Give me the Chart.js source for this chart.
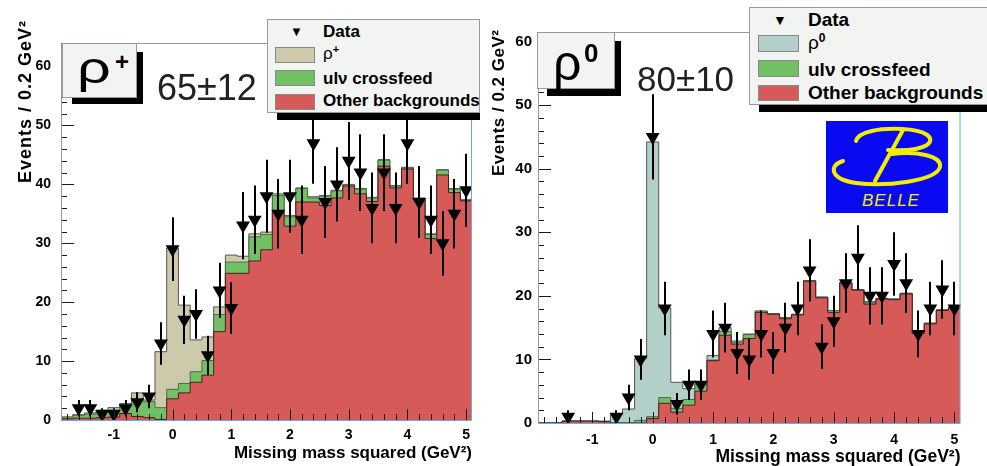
<!DOCTYPE html>
<html>
<head>
<meta charset="utf-8">
<script src="https://cdn.jsdelivr.net/npm/chart.js@4.4.1/dist/chart.umd.min.js"></script>
<style>
  body { margin: 0; background: #fff; font-family: 'Liberation Sans', Arial, sans-serif; }
  #wrap { position: relative; width: 987px; height: 466px; overflow: hidden; background: #fff; }
  .panel { position: absolute; top: 0; height: 466px; overflow: hidden; }
  .abs { position: absolute; white-space: nowrap; line-height: 1; }
  .box { position: absolute; background: #f2f4f2; border: 1px solid #999; box-sizing: border-box; }
  .shadow { position: absolute; background: #000; }
  .sw { position: absolute; border: 1px solid #888; box-sizing: border-box; }
  .ytitle { position: absolute; white-space: nowrap; font-weight: bold; transform-origin: 0 0; transform: rotate(-90deg); }
</style>
</head>
<body>
<div id="wrap">
  <div class="panel" style="left:0;width:480px">
    <canvas id="cLeft" width="480" height="466"></canvas>
    <!-- rho+ label -->
    <div class="shadow" style="left:72px;top:52px;width:71px;height:52px"></div>
    <div class="box" style="left:62px;top:43px;width:75px;height:55px"></div>
    <div class="abs" style="left:77px;top:46px;font-size:44px;transform:scaleX(1.35);transform-origin:0 0">ρ</div>
    <div class="abs" style="left:115px;top:50px;font-size:24px;font-weight:bold">+</div>
    <div class="abs" style="left:157px;top:70px;font-size:36px;color:#222">65±12</div>
    <!-- legend -->
    <div class="shadow" style="left:277px;top:112px;width:203px;height:8px"></div>
    <div class="box" style="left:267px;top:19px;width:213px;height:94px"></div>
    <div class="abs" style="left:290px;top:25px;font-size:13px">▼</div>
    <div class="abs" style="left:323px;top:23px;font-size:17px;font-weight:bold">Data</div>
    <div class="sw" style="left:275px;top:47px;width:40px;height:16px;background:#cdc9ab"></div>
    <div class="abs" style="left:323px;top:45px;font-size:17px">ρ<span style="position:relative;top:-6px;font-size:11px;font-weight:bold">+</span></div>
    <div class="sw" style="left:275px;top:70px;width:40px;height:16px;background:#72c064"></div>
    <div class="abs" style="left:323px;top:70px;font-size:17px;font-weight:bold">ulν crossfeed</div>
    <div class="sw" style="left:275px;top:94px;width:40px;height:16px;background:#d65a57"></div>
    <div class="abs" style="left:323px;top:92px;font-size:17px;font-weight:bold">Other backgrounds</div>
  </div>

  <div class="panel" style="left:490px;width:497px">
    <canvas id="cRight" width="497" height="466"></canvas>
    <!-- rho0 label -->
    <div class="shadow" style="left:57px;top:41px;width:74px;height:55px"></div>
    <div class="box" style="left:47px;top:32px;width:78px;height:57px"></div>
    <div class="abs" style="left:63px;top:38px;font-size:50px">ρ</div>
    <div class="abs" style="left:94px;top:40px;font-size:26px;font-weight:bold">0</div>
    <div class="abs" style="left:147px;top:61px;font-size:35px;color:#222">80±10</div>
    <!-- legend -->
    <div class="shadow" style="left:269px;top:104px;width:240px;height:8px"></div>
    <div class="box" style="left:259px;top:7px;width:250px;height:98px"></div>
    <div class="abs" style="left:283px;top:13px;font-size:14px">▼</div>
    <div class="abs" style="left:318px;top:10px;font-size:19px;font-weight:bold">Data</div>
    <div class="sw" style="left:268px;top:35px;width:41px;height:17px;background:#b2d0c9"></div>
    <div class="abs" style="left:318px;top:33px;font-size:19px">ρ<span style="position:relative;top:-7px;font-size:12px;font-weight:bold">0</span></div>
    <div class="sw" style="left:268px;top:60px;width:41px;height:17px;background:#72c064"></div>
    <div class="abs" style="left:318px;top:60px;font-size:19px;font-weight:bold">ulν crossfeed</div>
    <div class="sw" style="left:268px;top:85px;width:41px;height:16px;background:#d65a57"></div>
    <div class="abs" style="left:318px;top:83px;font-size:19px;font-weight:bold">Other backgrounds</div>
    <!-- Belle logo -->
    <div style="position:absolute;left:336px;top:121px;width:122px;height:92px;background:#0a0af2">
      <svg width="122" height="92" style="position:absolute;left:0;top:0">
        <g fill="none" stroke="#f2ee00" stroke-width="4" stroke-linecap="round">
          <path d="M30 20 C32 11 52 7 76 8 C100 9 110 17 101 24 C93 29 78 30 62 29"/>
          <path d="M77 9 L49 60"/>
          <path d="M17 40 C3 44 3 58 30 62 C60 66 110 60 114 46 C116 35 92 30 66 33"/>
        </g>
      </svg>
      <div class="abs" style="left:36px;top:71px;font-size:17px;font-style:italic;color:#f2ee00;letter-spacing:1px">BELLE</div>
    </div>
  </div>

  <div class="ytitle" style="left:15px;top:183px;font-size:18px;line-height:20px;letter-spacing:1px">Events / 0.2 GeV²</div>
  <div class="ytitle" style="left:489px;top:176px;font-size:17px;line-height:19px;letter-spacing:0.5px">Events / 0.2 GeV²</div>
</div>

<script>
// bin centres of missing mass squared (GeV^2), 0.2 wide
const bins = [-1.8, -1.6, -1.4, -1.2, -1.0, -0.8, -0.6, -0.4, -0.2, 0.0, 0.2, 0.4, 0.6, 0.8, 1.0, 1.2, 1.4, 1.6, 1.8,
  2.0, 2.2, 2.4, 2.6, 2.8, 3.0, 3.2, 3.4, 3.6, 3.8, 4.0, 4.2, 4.4, 4.6, 4.8, 5.0]
const binWidth = 0.2
const xTicks = [-1, 0, 1, 2, 3, 4, 5]
const yTicks = [0, 10, 20, 30, 40, 50, 60]

// rho+ panel
const otherPlus = [0.2, 0.3, 0.3, 0.4, 0.5, 1.1, 0.6, 0.4, 0.1, 3.6, 4.6, 6.4, 7.6, 15.0, 24.9, 24.9, 27.0, 28.9, 35.4,
  32.9, 37.0, 37.0, 36.4, 37.7, 39.7, 38.4, 37.1, 43.1, 39.4, 42.6, 37.4, 30.8, 41.6, 38.6, 37.2]
const crossPlus = [0.3, 0.5, 0.7, 1.0, 1.2, 1.3, 2.8, 2.7, 2.0, 1.6, 1.6, 1.8, 2.5, 2.9, 1.9, 1.9, 4.1, 2.6, 2.7,
  1.6, 2.3, 0.7, 1.6, 1.2, 0.2, 0.8, 0.6, 1.0, 0.3, 0.2, 0.2, 0.7, 0.8, 0.6, 0.1]
const sigPlus = [0.0, 0.1, 0.2, 0.3, 0.4, 0.4, 1.2, 0.3, 9.5, 24.0, 13.3, 5.4, 4.0, 1.3, 1.2, 1.0, 0.5, 0.4, 0.3,
  0.2, 0.1, 0.2, 0.1, 0.1, 0.1, 0.1, 0.1, 0.1, 0.1, 0.1, 0.1, 0.1, 0.1, 0.1, 0.1]
const dataPlus = [null, 2, 2, 1, 1, 2, 3, 4, 13, 29, 17, 18, 11, 22, 19, 33, 34, 38, 35,
  38, 34, 47, 37, 40, 44, 42, 36, 42, 36, 47, 37, 34, 30, 35, 39]
const errPlus = [null, 1.4, 1.4, 1.0, 1.0, 1.4, 1.7, 2.0, 3.6, 5.4, 4.1, 4.2, 3.3, 4.7, 4.4, 5.7, 5.8, 6.2, 5.9,
  6.2, 5.8, 6.9, 6.1, 6.3, 6.6, 6.5, 6.0, 6.5, 6.0, 6.9, 6.1, 5.8, 5.5, 5.9, 6.2]

// rho0 panel
const otherZero = [0, 0, 0.3, 0.3, 0.3, 0.2, 0.0, 0.0, 0.0, 0.7, 3.1, 1.7, 2.8, 5.0, 9.8, 13.8, 12.4, 13.3, 17.4,
  17.1, 16.4, 17.0, 22.3, 19.7, 17.4, 22.0, 20.9, 18.7, 19.5, 19.4, 20.3, 14.1, 15.6, 17.7, 18.1]
const crossZero = [0, 0, 0, 0, 0, 0, 0, 0, 0.4, 0.3, 0.9, 0.6, 0.9, 1.1, 0.1, 0.6, 0.3, 0.6, 0.2,
  0.1, 0.2, 0.1, 0.1, 0.1, 0.3, 0.1, 0.1, 0.2, 0.1, 0.1, 0.1, 0.2, 0.1, 0.1, 0.1]
const sigZero = [0, 0, 0, 0, 0, 0.1, 1.3, 2.2, 9.7, 43.2, 14.1, 4.1, 1.7, 0.1, 0.7, 0.6, 0.2, 0.1, 0,
  0, 0, 0, 0, 0, 0, 0, 0, 0.2, 0, 0, 0, 0.2, 0, 0, 0]
const dataZero = [null, null, 1, null, null, null, 1, 4, 10, 45, 18, 3, 6, 6, 14, 15, 11, 10, 14,
  11, 15, 18, 24, 12, 16, 22, 26, 20, 20, 25, 22, 14, 18, 21, 18]
const errZero = [null, null, 1.0, null, null, null, 1.0, 2.0, 3.2, 6.7, 4.2, 1.7, 2.4, 2.4, 3.7, 3.9, 3.3, 3.2, 3.7,
  3.3, 3.9, 4.2, 4.9, 3.5, 4.0, 4.7, 5.1, 4.5, 4.5, 5.0, 4.7, 3.7, 4.2, 4.6, 4.2]

const RED = '#d65a57'
const GREEN = '#72c064'
const TAN = '#cdc9ab'
const TEAL = '#b2d0c9'

Chart.defaults.font.family = "'Liberation Sans', Arial, sans-serif"
Chart.defaults.color = '#000'

// histogram outline: one point per left bin edge plus the closing right edge
function stepPoints(vals) {
  const pts = bins.map((c, i) => ({ x: +(c - binWidth / 2).toFixed(2), y: vals[i] }))
  pts.push({ x: +(bins[bins.length - 1] + binWidth / 2).toFixed(2), y: vals[vals.length - 1] })
  return pts
}

// ROOT-like frame, inward ticks and data error bars
const decoPlugin = {
  id: 'deco',
  afterDatasetsDraw(chart, args, opts) {
    const { ctx, chartArea: a, scales: { x, y } } = chart
    ctx.save()
    // error bars
    ctx.strokeStyle = '#000'
    ctx.lineWidth = 2
    opts.vals.forEach((v, i) => {
      if (v === null) return
      const px = Math.round(x.getPixelForValue(bins[i]))
      ctx.beginPath()
      ctx.moveTo(px, y.getPixelForValue(v + opts.err[i]))
      ctx.lineTo(px, y.getPixelForValue(Math.max(0, v - opts.err[i])))
      ctx.stroke()
    })
    // ticks
    ctx.lineWidth = 1
    ctx.strokeStyle = '#1a1a1a'
    for (let k = Math.ceil(x.min / 0.2); k * 0.2 <= x.max + 1e-9; k++) {
      const v = +(k * 0.2).toFixed(2)
      const major = xTicks.includes(v)
      const px = Math.round(x.getPixelForValue(v)) + 0.5
      ctx.beginPath()
      ctx.moveTo(px, a.bottom)
      ctx.lineTo(px, a.bottom - (major ? opts.majorLen : opts.minorLen))
      ctx.stroke()
    }
    for (let v = 0; v <= y.max; v += 2) {
      const major = yTicks.includes(v)
      const py = Math.round(y.getPixelForValue(v)) + 0.5
      ctx.beginPath()
      ctx.moveTo(a.left, py)
      ctx.lineTo(a.left + (major ? opts.majorLen + 2 : opts.minorLen), py)
      ctx.stroke()
    }
    // frame
    ctx.strokeStyle = '#999'
    ctx.beginPath()
    ctx.moveTo(a.left + 0.5, a.bottom)
    ctx.lineTo(a.left + 0.5, a.top + 0.5)
    ctx.lineTo(a.right, a.top + 0.5)
    ctx.stroke()
    ctx.strokeStyle = '#6aaade'
    ctx.beginPath()
    ctx.moveTo(a.left, a.bottom + 0.5)
    ctx.lineTo(a.right - 0.5, a.bottom + 0.5)
    ctx.lineTo(a.right - 0.5, a.top)
    ctx.stroke()
    ctx.restore()
  }
}

function makeChart(id, cfg) {
  // stacking follows dataset order: other backgrounds at the bottom, signal on top
  const stackDs = (vals, color, border, fill) => ({
    data: stepPoints(vals),
    stepped: true,
    fill: fill,
    backgroundColor: color,
    borderColor: border,
    borderWidth: 1,
    pointRadius: 0,
    stack: 'mc'
  })
  return new Chart(document.getElementById(id), {
    type: 'line',
    data: {
      datasets: [
        stackDs(cfg.other, RED, '#402020', 'origin'),
        stackDs(cfg.cross, GREEN, '#4a6a44', '-1'),
        stackDs(cfg.sig, cfg.sigColor, '#555', '-1'),
        {
          data: bins.map((c, i) => ({ x: c, y: cfg.data[i] })),
          showLine: false,
          pointStyle: 'triangle',
          rotation: 180,
          pointRadius: 8,
          backgroundColor: '#000',
          borderColor: '#000',
          borderWidth: 0,
          stack: 'data',
          order: -1
        }
      ]
    },
    options: {
      responsive: false,
      animation: false,
      events: [],
      layout: { padding: cfg.padding },
      plugins: {
        legend: { display: false },
        tooltip: { enabled: false },
        deco: { vals: cfg.data, err: cfg.err, majorLen: 11, minorLen: 6 }
      },
      scales: {
        x: {
          type: 'linear',
          min: -1.9,
          max: 5.1,
          afterBuildTicks: s => { s.ticks = xTicks.map(v => ({ value: v })) },
          afterFit: s => { s.height = cfg.xHeight },
          grid: { display: false, drawTicks: false },
          border: { display: false },
          ticks: { font: { size: 14, weight: 'bold' }, padding: cfg.xPad, maxRotation: 0 },
          title: {
            display: true,
            text: 'Missing mass squared (GeV²)',
            align: 'end',
            font: { size: cfg.titleSize, weight: 'bold' },
            padding: { top: 0, bottom: cfg.titlePad }
          }
        },
        y: {
          stacked: true,
          min: 0,
          max: cfg.yMax,
          afterBuildTicks: s => { s.ticks = yTicks.map(v => ({ value: v })) },
          afterFit: s => { s.width = cfg.yWidth },
          grid: { display: false, drawTicks: false },
          border: { display: false },
          ticks: { font: { size: cfg.yFont, weight: 'bold' }, padding: cfg.yPad }
        }
      }
    },
    plugins: [decoPlugin]
  })
}

makeChart('cLeft', {
  other: otherPlus, cross: crossPlus, sig: sigPlus, sigColor: TAN, data: dataPlus, err: errPlus,
  yMax: 64, padding: { left: 0, right: 8, top: 43, bottom: 0 },
  xHeight: 46, yWidth: 61, xPad: 7, yPad: 10, yFont: 14, titleSize: 17, titlePad: 2
})

makeChart('cRight', {
  other: otherZero, cross: crossZero, sig: sigZero, sigColor: TEAL, data: dataZero, err: errZero,
  yMax: 61.5, padding: { left: 0, right: 26.5, top: 32, bottom: 0 },
  xHeight: 43, yWidth: 48, xPad: 9, yPad: 6, yFont: 15, titleSize: 17.5, titlePad: -2
})
</script>
</body>
</html>
